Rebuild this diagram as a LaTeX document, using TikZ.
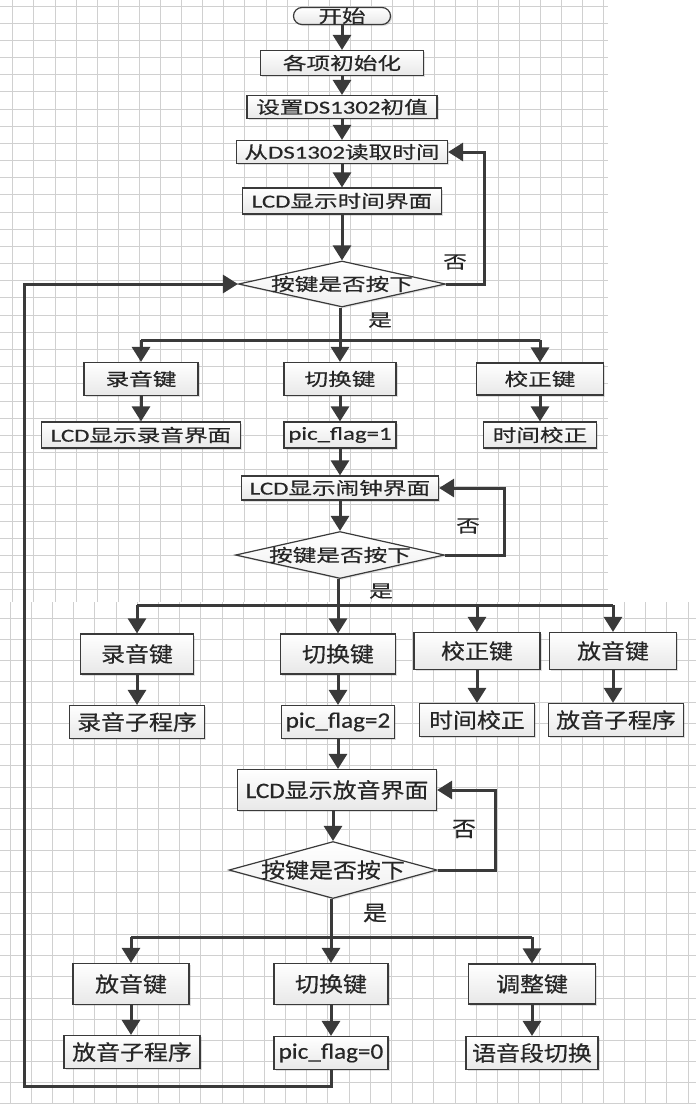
\documentclass[tikz,border=0pt]{standalone}
\usepackage{fontspec}
\usepackage{graphicx}
\setmainfont[FakeBold=0.4]{Noto Sans CJK SC}
\newfontfamily\lat[Scale=1.05,FakeBold=0.4]{Carlito}
\usetikzlibrary{arrows.meta,shapes.geometric,shadows,calc}
\definecolor{lc}{HTML}{3A3A3A}
\definecolor{gridc}{HTML}{D0D0D0}
\newcommand\topt[1]{\scalebox{1.35}[1]{#1}}
\newcommand\lowt[1]{\scalebox{1.14}[1]{#1}}
\begin{document}
\begin{tikzpicture}[x=1pt,y=-1pt,
  box/.style={draw=lc, line width=1.2pt, rectangle, inner sep=0pt,
    top color=white, bottom color=gray!18, text=black!85,
    drop shadow={shadow xshift=1.5pt, shadow yshift=-1.5pt, opacity=0.25, fill=gray}},
  bx/.style 2 args={box, minimum width=#1pt, minimum height=#2pt},
  dia/.style 2 args={draw=lc, line width=1.2pt, diamond, inner sep=0pt,
    top color=white, bottom color=gray!12,
    drop shadow={shadow xshift=1.5pt, shadow yshift=-1.5pt, opacity=0.2, fill=gray},
    minimum width=#1pt, minimum height=#2pt},
  tf/.style={font=\fontsize{17.5}{20}\selectfont, text=black!85},
  lf/.style={font=\fontsize{21}{24}\selectfont, text=black!85},
  conn/.style={draw=lc, line width=3pt},
  arr/.style={conn, -{Triangle[length=15pt,width=18pt]}},
  gl/.style={draw=gridc, line width=0.8pt}
]
\useasboundingbox (0,0) rectangle (696,1104);
\fill[white] (0,0) rectangle (696,1104);
% grid, upper part
\foreach \i in {0,...,28} \draw[gl] ({12.7+21.1*\i},0) -- ({12.7+21.1*\i},602);
\foreach \j in {0,...,34} \draw[gl] (0,{6+17.17*\j}) -- (608,{6+17.17*\j});
% grid, lower part
\foreach \i in {0,...,32} \draw[gl] ({10+21.19*\i},602) -- ({10+21.19*\i},1104);
\foreach \j in {1,...,24} \draw[gl] (0,{597+21.1*\j}) -- (696,{597+21.1*\j});

% ---------- section 1
\node[bx={97}{17}, tf, rounded corners=8.5pt] (start) at (342,16) {\topt{开始}};
\node[bx={163}{25}, tf] (init) at (342,63) {\topt{各项初始化}};
\node[bx={190}{23}, tf] (ds) at (342,107) {\topt{设置{\lat DS1302}初值}};
\node[bx={211}{23}, tf] (read) at (342,152) {\topt{从{\lat DS1302}读取时间}};
\node[bx={199}{26}, tf] (lcd1) at (342,201) {\topt{{\lat LCD}显示时间界面}};
\node[dia={207}{46}] (d1) at (342,284) {};
\node[tf] (d1t) at (d1.center) {\topt{按键是否按下}};
\node[tf] (no1) at (455,262) {\topt{否}};
\node[tf] (yes1) at (380,320) {\topt{是}};

\node[bx={114}{33}, tf] (ly1) at (141,379) {\topt{录音键}};
\node[bx={112}{33}, tf] (sw1) at (340,379) {\topt{切换键}};
\node[bx={127}{32}, tf] (jz1) at (540,379) {\topt{校正键}};
\node[bx={199}{26}, tf] (lcdly) at (141,435) {\topt{{\lat LCD}显示录音界面}};
\node[bx={112}{26}, tf] (pf1) at (340,435) {\topt{\lat pic\_flag=1}};
\node[bx={113}{26}, tf] (sj1) at (540,435) {\topt{时间校正}};
\node[bx={197}{24}, tf] (lcd2) at (340,488) {\topt{{\lat LCD}显示闹钟界面}};
\node[dia={209}{47}] (d2) at (340,555) {};
\node[tf] (d2t) at (d2.center) {\topt{按键是否按下}};
\node[tf] (no2) at (468,526) {\topt{否}};
\node[tf] (yes2) at (381,591) {\topt{是}};

% ---------- section 3
\node[bx={113}{40}, lf] (ly2) at (137,654) {\lowt{录音键}};
\node[bx={115}{40}, lf] (sw2) at (338,654) {\lowt{切换键}};
\node[bx={126}{37}, lf] (jz2) at (477,651) {\lowt{校正键}};
\node[bx={127}{37}, lf] (fy2) at (613,651) {\lowt{放音键}};
\node[bx={135}{33}, lf] (lyz) at (137,722) {\lowt{录音子程序}};
\node[bx={113}{33}, lf] (pf2) at (338,722) {\lowt{\lat pic\_flag=2}};
\node[bx={115}{33}, lf] (sj2) at (477,720) {\lowt{时间校正}};
\node[bx={135}{33}, lf] (fyz) at (616,720) {\lowt{放音子程序}};
\node[bx={199}{41}, lf] (lcd3) at (337,790) {\lowt{{\lat LCD}显示放音界面}};
\node[dia={208}{57}] (d3) at (333,870) {};
\node[lf] (d3t) at (d3.center) {\lowt{按键是否按下}};
\node[lf] (no3) at (464,829) {\lowt{否}};
\node[lf] (yes3) at (375,913) {\lowt{是}};

% ---------- section 4
\node[bx={116}{41}, lf] (fy3) at (131,984) {\lowt{放音键}};
\node[bx={114}{41}, lf] (sw3) at (331,984) {\lowt{切换键}};
\node[bx={127}{40}, lf] (tz3) at (532,984) {\lowt{调整键}};
\node[bx={136}{33}, lf] (fyz3) at (132,1052) {\lowt{放音子程序}};
\node[bx={114}{33}, lf] (pf0) at (331,1053) {\lowt{\lat pic\_flag=0}};
\node[bx={132}{33}, lf] (yy) at (532,1053) {\lowt{语音段切换}};

% ---------- connectors
\draw[arr] (start) -- (init);
\draw[arr] (init) -- (ds);
\draw[arr] (ds) -- (read);
\draw[arr] (read) -- (lcd1);
\draw[arr] (lcd1) -- (d1);
\coordinate (r1) at (484,284);
\draw[arr] (d1.east) -- (r1) |- (read.east);

\coordinate (b1) at (340,340);
\draw[arr] (sw1.north |- d1.south) -- (sw1.north);
\draw[conn] (ly1.north |- b1) -- (jz1.north |- b1);
\draw[arr] (ly1.north |- b1) -- (ly1.north);
\draw[arr] (jz1.north |- b1) -- (jz1.north);
\draw[arr] (ly1) -- (lcdly);
\draw[arr] (sw1) -- (pf1);
\draw[arr] (jz1) -- (sj1);
\draw[arr] (pf1) -- (lcd2);
\draw[arr] (lcd2) -- (d2);
\coordinate (r2) at (504,555);
\draw[arr] (d2.east) -- (r2) |- (lcd2.east);

\coordinate (b2) at (338,605);
\draw[arr] (sw2.north |- d2.south) -- (sw2.north);
\draw[conn] (ly2.north |- b2) -- (fy2.north |- b2);
\draw[arr] (ly2.north |- b2) -- (ly2.north);
\draw[arr] (jz2.north |- b2) -- (jz2.north);
\draw[arr] (fy2.north |- b2) -- (fy2.north);
\draw[arr] (ly2) -- (lyz);
\draw[arr] (sw2) -- (pf2);
\draw[arr] (jz2.south) -- (jz2.south |- sj2.north);
\draw[arr] (fy2.south) -- (fy2.south |- fyz.north);
\draw[arr] (pf2.south) -- (pf2.south |- lcd3.north);
\draw[arr] (d3.north |- lcd3.south) -- (d3.north);
\coordinate (r3) at (495,870);
\draw[arr] (d3.east) -- (r3) |- (lcd3.east);

\coordinate (b3) at (332,937);
\draw[arr] (sw3.north |- d3.south) -- (sw3.north);
\draw[conn] (fy3.north |- b3) -- (tz3.north |- b3);
\draw[arr] (fy3.north |- b3) -- (fy3.north);
\draw[arr] (tz3.north |- b3) -- (tz3.north);
\draw[arr] (fy3.south) -- (fy3.south |- fyz3.north);
\draw[arr] (sw3) -- (pf0);
\draw[arr] (tz3) -- (yy);

\coordinate (lpb) at (24,1086);
\draw[arr] (pf0.south) |- (lpb) |- (d1.west);
\end{tikzpicture}
\end{document}
